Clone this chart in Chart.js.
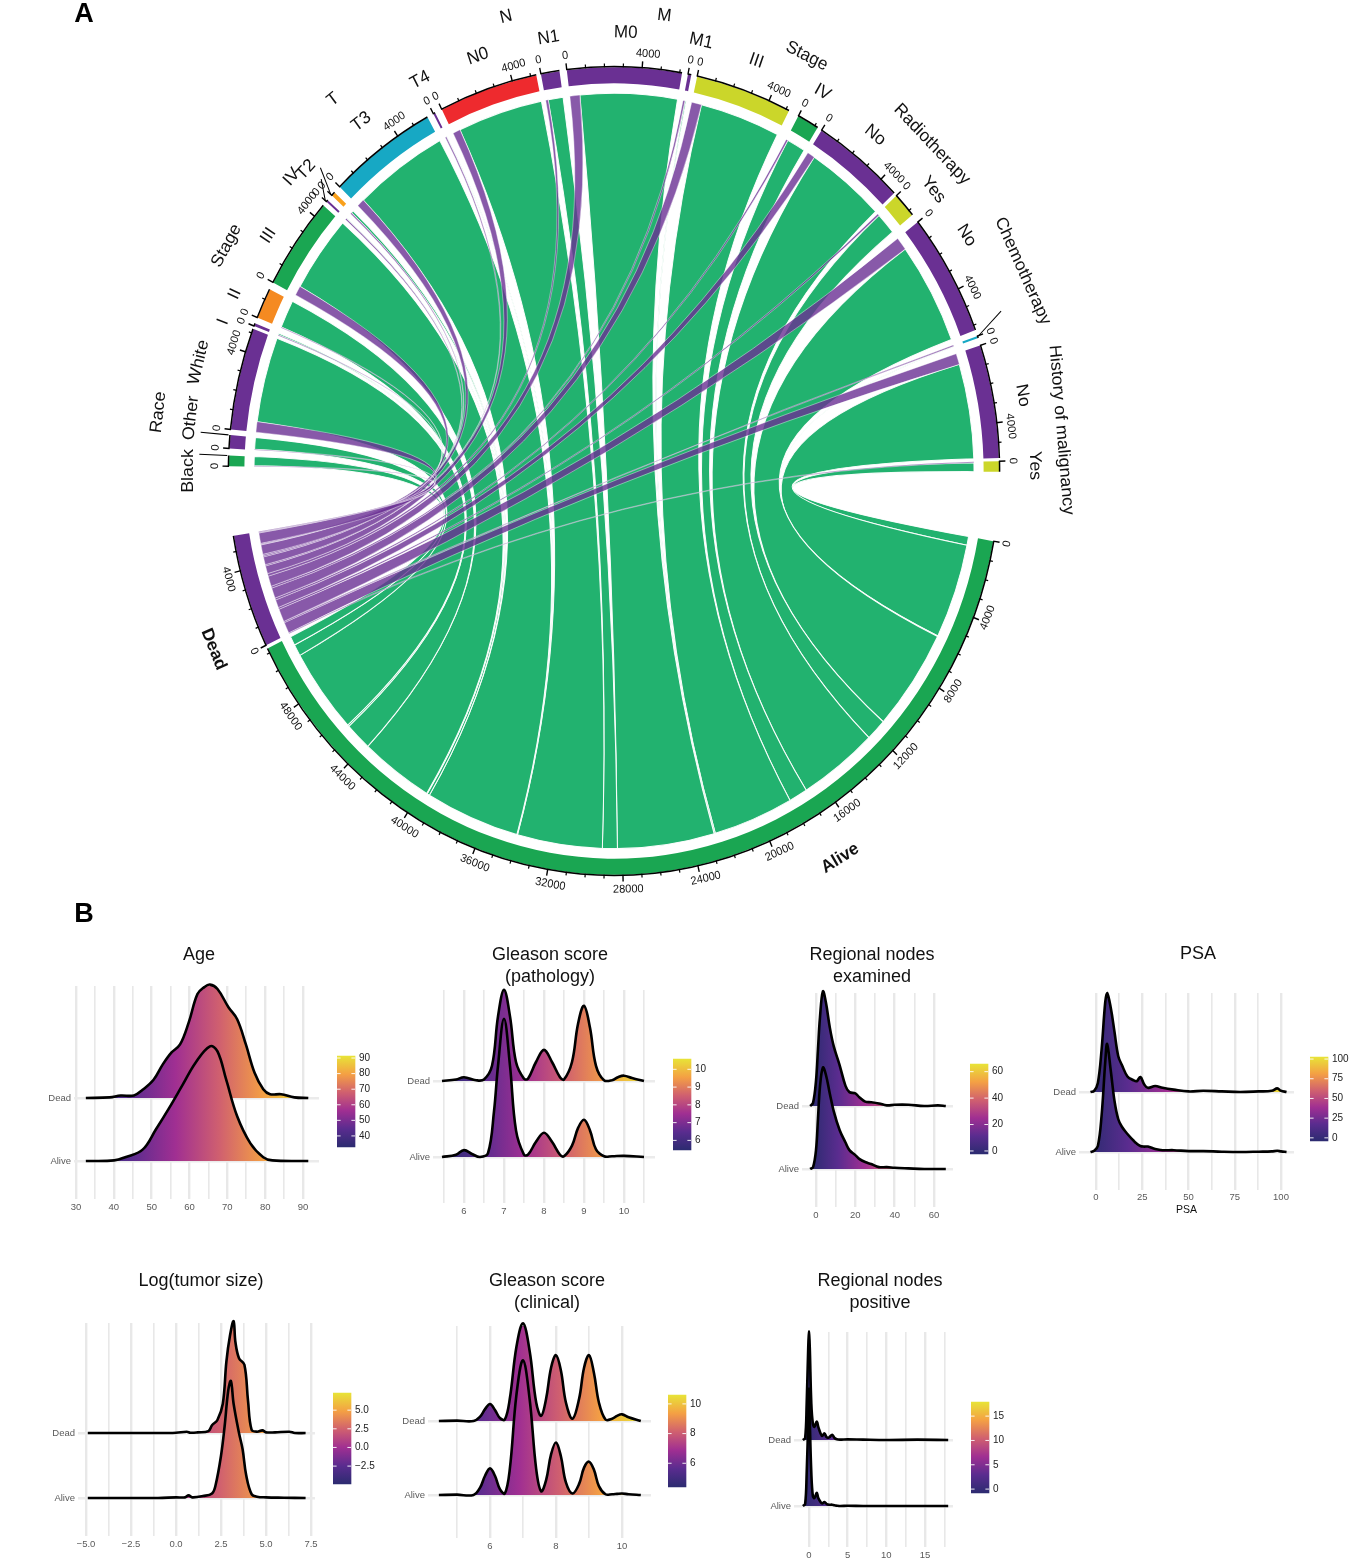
<!DOCTYPE html>
<html><head><meta charset="utf-8">
<script src="https://cdn.jsdelivr.net/npm/chart.js@4"></script>
<style>html,body{margin:0;padding:0;background:#fff}#page{position:relative;width:1349px;height:1564px;overflow:hidden;background:#fff}canvas{position:absolute}</style>
</head><body><div id="page"></div>
<script>
/* ---------- chord data (clockwise after the Dead sector) ---------- */
const sectorNames=["Black","Other","White","I","II","III","IV","T2","T3","T4","N0","N1","M0","M1","III","IV","No","Yes","No","Yes","No","Yes"];
const aliveCounts=[500,640,4650,90,1530,4200,36,142,5410,36,4877,854,5555,71,4600,1068,4557,1180,5554,36,5180,480];
const deadCounts=[40,40,570,50,36,520,71,71,430,71,430,142,570,107,570,107,430,107,712,71,605,53];
const gapAfter=[356,285,156,320,390,246,320,390,356,392,249,390,320,321,566,250,178,458,320,390,160,3524];
const sectorColors=["#1aa652","#6a3093","#6a3093","#6a3093","#f58a21","#1aa652","#6a3093","#f9a01b","#17a8c4","#6a3093","#ee2a2e","#6a3093","#6a3093","#6a3093","#cbd62a","#1aa652","#6a3093","#cbd62a","#6a3093","#17a8c4","#6a3093","#cbd62a"];
const sectorLabelAngles=[180,186.8,194,200,204,213,221,223,232.8,242.5,251,261,271.6,282,290,300,309.2,320,327.5,null,350,359.3];
const sectorLabelRadii=[426,426,428,416,415,412,427,421,418,420,418,418,418,419,416,417,413,417,418,0,415,421];
const groupNames=["Race","Stage","T","N","M","Stage","Radiotherapy","Chemotherapy","History of malignancy"];
const groupAngles=[187,209,231.6,256,276.6,296,315.6,335,355];
const groupRadii=[459,443,452,446,437,440,445,451,449];
const outcomeNames=["Alive","Dead"];
const outcomeColors=["#1aa652","#6a3093"];
const outcomeGaps=[178,3524];

/* ---------- ridge data: x positions and heights per outcome ---------- */
const ageDeadX=[32.6,38.9,41.8,45.3,47.6,50.5,52.9,55.2,57.5,59.8,62.1,63.9,65.4,67.4,70.3,72.6,74.9,77.2,79.5,81.3,84.2,87.7,91.4];
const ageDeadH=[0,.01,.04,.04,.13,.29,.53,.72,.85,1.2,1.65,1.76,1.8,1.73,1.44,1.25,.85,.4,.14,.06,.06,.01,0];
const ageAliveX=[32.6,40.1,43,47.6,51.1,54.6,58.1,61.6,65.4,67.4,69.7,72.6,76.1,79.5,81.9,91.4];
const ageAliveH=[0,.01,.06,.18,.5,.84,1.2,1.56,1.82,1.74,1.29,.71,.28,.06,.01,0];
const gpDeadX=[5.45,5.8,6,6.3,6.5,6.7,6.85,7,7.15,7.3,7.5,7.6,7.8,8,8.2,8.4,8.5,8.7,8.85,9,9.15,9.3,9.5,9.7,9.85,10,10.2,10.5];
const gpDeadH=[0,.02,.05,.01,.02,.2,.85,1.2,.85,.25,.03,.03,.25,.41,.25,.05,.02,.25,.75,.99,.7,.2,.01,.01,.05,.07,.04,0];
const gpAliveX=[5.45,5.8,6,6.2,6.4,6.6,6.75,6.85,7,7.15,7.3,7.5,7.6,7.8,8,8.2,8.4,8.5,8.7,8.85,9,9.15,9.3,9.5,9.7,10,10.5];
const gpAliveH=[0,.03,.09,.04,0,.05,.6,1.2,1.82,1.2,.35,.03,.03,.2,.32,.2,.03,.01,.15,.38,.49,.35,.1,.01,.01,.015,0];
const rneX=[-3,-1.5,0,1,2,3.5,5,7,9,12,15,17,20,22,25,28,32,36,40,47,55,62,66];
const rneDeadH=[0,.05,.4,.9,1.4,1.82,1.65,1.25,.95,.65,.32,.22,.2,.14,.07,.06,.04,.01,.02,.02,0,.01,0];
const rneAliveH=[0,.03,.3,.8,1.3,1.61,1.5,1.2,.92,.62,.42,.3,.22,.16,.11,.08,.03,.03,.02,.01,0,0,0];
const psaX=[-3,-1,1,3,5,6,8,10,12,14,17,20,22,24,26,28,32,36,42,50,58,68,78,88,95,98,100,103];
const psaDeadH=[0,.02,.15,.7,1.5,1.65,1.4,1,.6,.45,.26,.2,.18,.25,.13,.07,.1,.07,.04,.01,.02,.01,0,.01,.02,.06,.02,0];
const psaAliveH=[0,.02,.1,.6,1.5,1.8,1.35,.85,.55,.42,.3,.2,.14,.1,.09,.09,.05,.03,.03,.015,.015,.005,0,.005,.01,.02,.01,0];
const logDeadX=[-4.9,-1,0,.6,.8,1.2,1.8,2,2.3,2.6,2.8,3,3.2,3.3,3.5,3.8,4,4.2,4.5,4.8,5,5.5,6.3,6.6,7.2];
const logDeadH=[0,0,.005,.02,.005,.01,.03,.12,.2,.45,1.1,1.5,1.72,1.4,1.15,1.05,.5,.05,.02,.04,.01,.01,.02,0,0];
const logAliveX=[-4.9,-1,0,.5,.7,.9,1.5,2,2.2,2.5,2.7,2.9,3.05,3.2,3.5,3.7,3.9,4.2,4.5,5,6,7.2];
const logAliveH=[0,0,.01,.01,.04,.01,.03,.07,.2,.65,1.1,1.65,1.8,1.45,1,.75,.35,.06,.02,.01,.005,0];
const gcX=[4.45,5,5.5,5.7,5.85,6,6.15,6.3,6.45,6.6,6.8,7,7.2,7.4,7.55,7.7,7.85,8,8.15,8.3,8.5,8.7,8.85,9,9.15,9.3,9.5,9.7,9.85,10,10.2,10.57];
const gcDeadH=[0,.005,0,.06,.16,.23,.15,.04,.02,.3,1,1.32,.95,.25,.07,.3,.72,.89,.68,.25,.03,.3,.72,.89,.65,.25,.02,.03,.07,.09,.05,0];
const gcAliveH=[0,.005,0,.1,.26,.36,.26,.08,.02,.35,1.35,1.82,1.3,.35,.05,.2,.55,.71,.52,.17,.02,.15,.37,.45,.34,.12,.01,.01,.015,.02,.01,0];
const rnpX=[-.8,-.5,-.3,-.1,0,.1,.3,.5,.7,1,1.2,1.5,1.7,2,2.3,2.6,3,3.3,3.6,4,5,7,10,14,18];
const rnpDeadH=[0,.03,.55,1.4,1.64,1.4,.55,.25,.2,.28,.2,.1,.06,.1,.04,.04,.08,.03,.01,.005,.01,.005,0,.005,0];
const rnpAliveH=[0,.03,.5,1.3,1.78,1.3,.5,.15,.12,.2,.12,.06,.04,.06,.03,.02,.02,.01,.005,0,.003,0,0,0,0];

const FONT="'Liberation Sans', Arial, sans-serif";
Chart.defaults.font.family=FONT;
Chart.defaults.animation=false;
const page=document.getElementById('page');
function addCanvas(l,t,w,h){const c=document.createElement('canvas');c.width=w;c.height=h;c.style.left=l+'px';c.style.top=t+'px';c.style.width=w+'px';c.style.height=h+'px';page.appendChild(c);return c;}

/* ---------- chord ---------- */
const Y_STRETCH=1.049, CX=614, CY=471, R_OUT=385, R_RIB=360;
const aliveTotal=aliveCounts.reduce((a,b)=>a+b,0), deadTotal=deadCounts.reduce((a,b)=>a+b,0);
const ringValues=[aliveTotal,outcomeGaps[0],deadTotal,outcomeGaps[1]];
const ringColors=[outcomeColors[0],'rgba(0,0,0,0)',outcomeColors[1],'rgba(0,0,0,0)'];
sectorNames.forEach((n,i)=>{ringValues.push(aliveCounts[i]+deadCounts[i],gapAfter[i]);ringColors.push(sectorColors[i],'rgba(0,0,0,0)');});
const sectorIndex=i=>4+2*i;

function ribbon(ctx,el,a1,a2,b1,b2,r){
  const x=el.x,y=el.y;
  ctx.beginPath();
  ctx.arc(x,y,r,a1,a2);
  ctx.quadraticCurveTo(x,y,x+r*Math.cos(b1),y+r*Math.sin(b1));
  ctx.arc(x,y,r,b1,b2);
  ctx.quadraticCurveTo(x,y,x+r*Math.cos(a1),y+r*Math.sin(a1));
  ctx.closePath();ctx.fill();ctx.stroke();
}
function tangText(ctx,text,theta,r,font,el,shift){
  const t=((theta%360)+360)%360, rad=t*Math.PI/180;
  ctx.save();
  ctx.translate(el.x+r*Math.cos(rad),el.y+r*Math.sin(rad));
  ctx.rotate(((t>=180?t-270:t-90))*Math.PI/180);
  ctx.font=font;ctx.textAlign='center';ctx.textBaseline='middle';ctx.fillStyle='#111';
  ctx.fillText(text,shift||0,0);
  ctx.restore();
}
/* leader lines: sector index -> [use sector end?, angular offset, end radius] */
const leaderSectors={0:[true,0,415],1:[true,0,415],6:[false,1.8,404],7:[false,1.6,412],19:[false,-2,416]};
const chordPlugin={id:'chord',
  beforeDatasetsDraw(chart){
    const ctx=chart.ctx,meta=chart.getDatasetMeta(0),el0=meta.data[0];
    ctx.save();
    ctx.translate(0,el0.y);ctx.scale(1,Y_STRETCH);ctx.translate(0,-el0.y);
    const A=meta.data[0],D=meta.data[2];
    const ka=(A.endAngle-A.startAngle)/aliveTotal, kd=(D.endAngle-D.startAngle)/deadTotal;
    const spans=[];let ap=A.startAngle,dp=D.startAngle;
    for(let i=sectorNames.length-1;i>=0;i--){
      const el=meta.data[sectorIndex(i)];
      const k=(el.endAngle-el.startAngle)/(aliveCounts[i]+deadCounts[i]);
      const mid=el.startAngle+deadCounts[i]*k;
      spans.push({i,s:el.startAngle,m:mid,e:el.endAngle,
        a1:ap,a2:ap+aliveCounts[i]*ka,d1:dp,d2:dp+deadCounts[i]*kd});
      ap+=aliveCounts[i]*ka;dp+=deadCounts[i]*kd;
    }
    ctx.fillStyle='#22b26f';ctx.strokeStyle='rgba(255,255,255,0.95)';ctx.lineWidth=1;
    spans.forEach(s=>ribbon(ctx,A,s.m,s.e,s.a1,s.a2,R_RIB));
    ctx.fillStyle='rgba(106,48,147,0.8)';ctx.strokeStyle='rgba(255,255,255,0.55)';ctx.lineWidth=.7;
    spans.forEach(s=>ribbon(ctx,A,s.s,s.m,s.d1,s.d2,R_RIB));
  },
  afterDatasetsDraw(chart){
    const ctx=chart.ctx,meta=chart.getDatasetMeta(0);
    const all=[[0,aliveTotal],[2,deadTotal]].concat(sectorNames.map((n,i)=>[sectorIndex(i),aliveCounts[i]+deadCounts[i]]));
    const el0=meta.data[0];
    ctx.strokeStyle='#000';
    all.forEach(([idx,val])=>{
      const el=meta.data[idx],k=(el.endAngle-el.startAngle)/val;
      ctx.lineWidth=1.5;ctx.beginPath();ctx.arc(el.x,el.y,R_OUT+.6,el.startAngle,el.endAngle);ctx.stroke();
      for(let v=0;v<=val;v+=1000){
        const a=el.startAngle+v*k,major=v%4000===0,len=major?6.5:3.5;
        ctx.lineWidth=major?1.4:1.2;ctx.beginPath();
        ctx.moveTo(el.x+R_OUT*Math.cos(a),el.y+R_OUT*Math.sin(a));
        ctx.lineTo(el.x+(R_OUT+len)*Math.cos(a),el.y+(R_OUT+len)*Math.sin(a));ctx.stroke();
        if(major){tangText(ctx,String(v),a*180/Math.PI,R_OUT+14,"11px "+FONT,el,v>0?5:0);}
      }
    });
    Object.keys(leaderSectors).forEach(i=>{
      const el=meta.data[sectorIndex(+i)],[atEnd,d,r]=leaderSectors[i],a=atEnd?el.endAngle:el.startAngle,b=a+d*Math.PI/180;
      ctx.lineWidth=1;ctx.beginPath();
      ctx.moveTo(el.x+(R_OUT+2)*Math.cos(a),el.y+(R_OUT+2)*Math.sin(a));
      ctx.lineTo(el.x+r*Math.cos(b),el.y+r*Math.sin(b));ctx.stroke();
    });
    sectorNames.forEach((n,i)=>{ if(sectorLabelAngles[i]!==null) tangText(ctx,n,sectorLabelAngles[i],sectorLabelRadii[i],"17px "+FONT,el0); });
    groupNames.forEach((n,i)=>tangText(ctx,n,groupAngles[i],groupRadii[i],"17px "+FONT,el0));
    tangText(ctx,outcomeNames[0],58.5,433,"bold 17px "+FONT,el0);
    tangText(ctx,outcomeNames[1],157,435,"bold 17px "+FONT,el0);
    ctx.restore();
    ctx.save();ctx.font="bold 27px "+FONT;ctx.fillStyle='#000';ctx.textAlign='center';ctx.textBaseline='middle';
    ctx.fillText('A',84,15);ctx.fillText('B',84,915);ctx.restore();
  }
};
new Chart(addCanvas(0,0,1349,930),{type:'doughnut',
  data:{labels:ringValues.map((v,i)=>String(i)),datasets:[{data:ringValues,backgroundColor:ringColors,borderWidth:0,clip:false}]},
  options:{responsive:false,rotation:100,cutout:'96%',radius:'100%',events:[],
    layout:{padding:{left:CX-R_OUT,right:1349-CX-R_OUT,top:CY-R_OUT,bottom:930-CY-R_OUT},autoPadding:false},
    plugins:{legend:{display:false},tooltip:{enabled:false},title:{display:false}}},
  plugins:[chordPlugin]});

/* ---------- ridges ---------- */
const rampPos=[0,.2,.4,.6,.8,1];
const rampCol=['#2c2b70','#5a2c8f','#a02f92','#d0606f','#f4a044','#e8e337'];
function ramp(g){rampPos.forEach((p,i)=>g.addColorStop(p,rampCol[i]));return g;}
function ridge(p){
  const unit=p.yAlive-p.yDead;
  const lines=p.title.length, lh=22;
  const halfW=Math.max(p.tc-p.L,p.R-p.tc)+34;
  const cL=Math.round(p.tc-halfW), cR=Math.round(p.tc+halfW), cT=p.titleY-lh/2;
  const axisH=p.axisTitle?26:20;
  const kx=(p.px[1]-p.px[0])/(p.v[1]-p.v[0]);
  const xmin=p.v[0]+(p.L-p.px[0])/kx, xmax=p.v[0]+(p.R-p.px[0])/kx;
  const fillFn=ctx=>{const c=ctx.chart;if(!c.chartArea)return 'rgba(0,0,0,0)';
    const s=c.scales.x;return ramp(c.ctx.createLinearGradient(s.getPixelForValue(p.cmin),0,s.getPixelForValue(p.cmax),0));};
  const mk=(label,xs,hs,base)=>({label,data:xs.map((x,i)=>({x,y:base+hs[i]})),borderColor:'#000',borderWidth:2.6,pointRadius:0,
    tension:.38,fill:{value:base},backgroundColor:fillFn,clip:false});
  new Chart(addCanvas(cL,cT,cR-cL,p.bottom+axisH-cT),{type:'line',
    data:{datasets:[mk('Alive',p.xA,p.hA,0),mk('Dead',p.xD,p.hD,1)]},
    options:{responsive:false,events:[],parsing:false,
      layout:{padding:0,autoPadding:false},
      plugins:{legend:{display:false},tooltip:{enabled:false},
        title:{display:true,text:p.title,color:'#111',font:{size:18,lineHeight:lh/18,weight:'normal',family:FONT},padding:{top:0,bottom:p.top-cT-lines*lh}}},
      scales:{
        x:{type:'linear',min:xmin,max:xmax,
          afterFit:s=>{s.height=axisH;s.paddingLeft=0;s.paddingRight=0;},
          title:p.axisTitle?{display:true,text:p.axisTitle,color:'#111',font:{size:10.5},padding:{top:0,bottom:0}}:{display:false},
          border:{display:false},
          grid:{color:'#e8e8e8',drawTicks:false,lineWidth:c=>{const v=c.tick?c.tick.value:0;return Math.abs(v/p.major-Math.round(v/p.major))<1e-6?2.4:1.6;}},
          ticks:{stepSize:p.major/2,includeBounds:false,autoSkip:false,maxRotation:0,padding:p.tickPad,color:'#5a5a5a',font:{size:9.5},
            callback:v=>Math.abs(v/p.major-Math.round(v/p.major))<1e-6?(p.fmt?p.fmt(v):String(v)):''}},
        y:{type:'linear',min:-(p.bottom-p.yAlive)/unit,max:(p.yAlive-p.top)/unit,
          afterBuildTicks:s=>{s.ticks=[{value:0},{value:1}];},
          afterFit:s=>{s.width=p.L-cL;s.paddingTop=0;s.paddingBottom=0;},
          border:{display:false},
          grid:{color:'#ebebeb',drawTicks:false,lineWidth:2.4},
          ticks:{padding:3,color:'#5a5a5a',font:{size:9.5},callback:v=>v===1?'Dead':'Alive'}},
        yR:{type:'linear',position:'right',display:true,min:0,max:1,
          afterFit:s=>{s.width=cR-p.R;s.paddingTop=0;s.paddingBottom=0;},
          border:{display:false},grid:{display:false,drawTicks:false},ticks:{display:false}}
      }}});
  /* colour bar */
  const b=p.bar, pad=6, W=b[1]-b[0];
  const barTick={id:'barTick',afterDatasetsDraw(c){const y=c.scales.y,a=c.chartArea,x=c.ctx;x.save();x.strokeStyle='rgba(255,255,255,.9)';x.lineWidth=1;
    y.ticks.forEach(t=>{const py=y.getPixelForValue(t.value);x.beginPath();x.moveTo(a.left,py);x.lineTo(a.left+W/5,py);x.moveTo(a.right-W/5,py);x.lineTo(a.right,py);x.stroke();});x.restore();}};
  new Chart(addCanvas(b[0],b[2]-pad,W+40,b[3]-b[2]+2*pad),{type:'bar',
    data:{labels:[''],datasets:[{data:[[p.barRange[0],p.barRange[1]]],barPercentage:1,categoryPercentage:1,borderWidth:0,clip:false,
      backgroundColor:c=>{const ch=c.chart;if(!ch.chartArea)return 'rgba(0,0,0,0)';return ramp(ch.ctx.createLinearGradient(0,ch.chartArea.bottom,0,ch.chartArea.top));}}]},
    options:{responsive:false,events:[],
      layout:{padding:{left:0,right:0,top:pad,bottom:pad},autoPadding:false},
      plugins:{legend:{display:false},tooltip:{enabled:false}},
      scales:{x:{display:false},
        y:{position:'right',min:p.barRange[0],max:p.barRange[1],border:{display:false},grid:{display:false,drawTicks:false},
          afterFit:s=>{s.width=40;s.paddingTop=0;s.paddingBottom=0;},
          ticks:{stepSize:p.barStep,includeBounds:false,autoSkip:false,padding:4,color:'#222',font:{size:10},callback:p.fmt?p.fmt:(v=>String(v))}}}},
    plugins:[barTick]});
}
const fmt1=v=>(v<0?'\u2212':'')+Math.abs(v).toFixed(1);
const panels=[
 {title:['Age'],tc:199,titleY:955,L:74,R:319,top:986,bottom:1199,yDead:1098,yAlive:1161,v:[30,90],px:[76,303],major:10,tickPad:3,
  xD:ageDeadX,hD:ageDeadH,xA:ageAliveX,hA:ageAliveH,cmin:32.9,cmax:91.3,bar:[337,355,1056,1147],barRange:[32.9,91.3],barStep:10},
 {title:['Gleason score','(pathology)'],tc:550,titleY:955,L:433,R:655,top:990,bottom:1203,yDead:1081,yAlive:1157,v:[6,10],px:[464,624],major:1,tickPad:3,
  xD:gpDeadX,hD:gpDeadH,xA:gpAliveX,hA:gpAliveH,cmin:5.46,cmax:10.58,bar:[673,691,1059,1150],barRange:[5.46,10.58],barStep:1},
 {title:['Regional nodes','examined'],tc:872,titleY:955,L:802,R:953,top:993,bottom:1207,yDead:1106,yAlive:1169,v:[0,60],px:[816,934],major:20,tickPad:3,
  xD:rneX,hD:rneDeadH,xA:rneX,hA:rneAliveH,cmin:-2.3,cmax:65.8,bar:[970,988,1064,1154],barRange:[-2.3,65.8],barStep:20},
 {title:['PSA'],tc:1198,titleY:954,L:1079,R:1294,top:993,bottom:1190,yDead:1092,yAlive:1152,v:[0,100],px:[1096,1281],major:25,tickPad:2,axisTitle:'PSA',
  xD:psaX,hD:psaDeadH,xA:psaX,hA:psaAliveH,cmin:-4,cmax:102.6,bar:[1310,1328,1057,1141],barRange:[-4,102.6],barStep:25},
 {title:['Log(tumor size)'],tc:201,titleY:1281,L:78,R:315,top:1323,bottom:1536,yDead:1433,yAlive:1498,v:[-5,7.5],px:[86,311],major:2.5,tickPad:3,fmt:fmt1,
  xD:logDeadX,hD:logDeadH,xA:logAliveX,hA:logAliveH,cmin:-4.9,cmax:7.3,bar:[333,351,1393,1484],barRange:[-4.9,7.3],barStep:2.5},
 {title:['Gleason score','(clinical)'],tc:547,titleY:1281,L:428,R:651,top:1326,bottom:1538,yDead:1421,yAlive:1495,v:[6,10],px:[490,622],major:2,tickPad:3,
  xD:gcX,hD:gcDeadH,xA:gcX,hA:gcAliveH,cmin:4.4,cmax:10.6,bar:[668,686,1395,1487],barRange:[4.4,10.6],barStep:2},
 {title:['Regional nodes','positive'],tc:880,titleY:1281,L:794,R:953,top:1332,bottom:1547,yDead:1440,yAlive:1506,v:[0,15],px:[809,925],major:5,tickPad:3,
  xD:rnpX,hD:rnpDeadH,xA:rnpX,hA:rnpAliveH,cmin:-.8,cmax:17.9,bar:[971,989,1402,1493],barRange:[-.8,17.9],barStep:5}
];
panels.forEach(ridge);
</script></body></html>
